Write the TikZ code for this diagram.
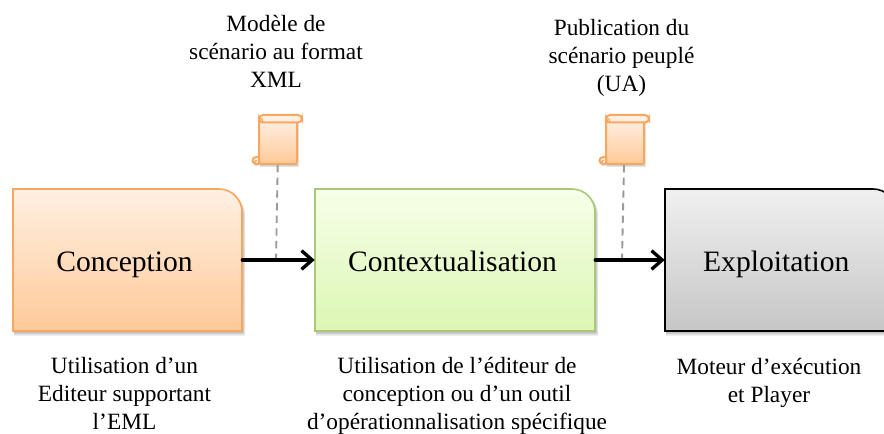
\documentclass[tikz,border=0pt]{standalone}
\usepackage{fontspec}
\setmainfont{Liberation Serif}
\usetikzlibrary{arrows.meta,calc}
\definecolor{orline}{HTML}{F9A75F}
\definecolor{ortop}{HTML}{FFF0E3}
\definecolor{orbot}{HTML}{FFC998}
\definecolor{grline}{HTML}{ABC878}
\definecolor{grtop}{HTML}{F6FFE8}
\definecolor{grbot}{HTML}{DCF6B4}
\definecolor{gytop}{HTML}{F0F0F0}
\definecolor{gybot}{HTML}{C6C6C6}
\definecolor{dashc}{HTML}{9A9A9A}
\tikzset{
  x=0.75pt,y=-0.75pt,
  boxtext/.style={font=\fontsize{22.2}{26}\selectfont,inner sep=0pt,text=black,anchor=base},
  captxt/.style={font=\fontsize{17.5}{21}\selectfont,align=center,inner sep=0pt,text=black,anchor=base},
  flow/.style={line width=2.5pt,black,-{Straight Barb[length=8pt,width=14pt,line width=2.5pt]},line cap=round},
  link/.style={dashc,line width=1.4pt,dash pattern=on 5.5pt off 4pt},
  shadowc/.style={fill=black,draw=none,opacity=.1},
  anchorbox/.style={inner sep=0pt,draw=none},
  scrolline/.style={orline,line width=1.5pt},
}
\newcommand{\blockpath}[4]{(#1,#2) -- (#3-23,#2) arc[start angle=90,end angle=0,radius=23*0.75pt] -- (#3,#4) -- (#1,#4) -- cycle}
\newcommand{\blockshadow}[4]{%
  \fill[shadowc] \blockpath{#1+1}{#2+1}{#3+1}{#4+1.5};
  \fill[shadowc] \blockpath{#1+1}{#2+2}{#3+2}{#4+3};
  \fill[shadowc] \blockpath{#1+1}{#2+3}{#3+3}{#4+4.5};}
\newcommand{\scrollicon}[2]{%
  \begin{scope}[shift={(#1,#2)}]
    \fill[shadowc] (1,4) rectangle (40,52);
    \fill[shadowc] (1,4) rectangle (39,51);
    \fill[shadowc] (-5,48) rectangle (1,51.5);
    \draw[scrolline,fill=ortop] (0,49) -- (-3,49) arc[start angle=270,end angle=90,radius=2.6pt] -- (0,42);
    \draw[scrolline,rounded corners=1.5pt,top color=ortop,bottom color=orbot] (0,3) rectangle (38,49);
    \draw[scrolline,fill=ortop,rounded corners=3pt] (0,0) rectangle (43,7.5);
    \draw[orline,line width=.9pt] (3.5,7) -- (3.5,5.5) arc[start angle=0,end angle=300,radius=1.5pt];
    \draw[orline,line width=.9pt] (-3,49) arc[start angle=270,end angle=60,radius=1.3pt];
  \end{scope}}
\begin{document}
\begin{tikzpicture}
\useasboundingbox (0,0) rectangle (884,434);
\begin{scope}
\clip (0,0) rectangle (884,434);
\blockshadow{13}{189}{242}{331}
\blockshadow{315}{189}{595}{331}
\blockshadow{665}{189}{896}{331}
\draw[orline,line width=1.2pt,top color=ortop,bottom color=orbot] \blockpath{13}{189}{242}{331};
\draw[grline,line width=1.2pt,top color=grtop,bottom color=grbot] \blockpath{315}{189}{595}{331};
\draw[black,line width=1.2pt,top color=gytop,bottom color=gybot] \blockpath{665}{189}{896}{331};
\end{scope}
\node[anchorbox,minimum width=171.75pt,minimum height=106.5pt] (conception) at (127.5,260) {};
\node[anchorbox,minimum width=210pt,minimum height=106.5pt] (context) at (455,260) {};
\node[anchorbox,minimum width=173.25pt,minimum height=106.5pt] (exploit) at (780.5,260) {};
\node[boxtext] (t1) at (124.5,272) {Conception};
\node[boxtext] (t2) at (452.5,272) {Contextualisation};
\node[boxtext] (t3) at (776.3,272) {Exploitation};
\scrollicon{259}{115}
\scrollicon{606}{115}
\coordinate (s1) at (277.7,165);
\coordinate (s2) at (624,165);
\coordinate (j1) at (276,260);
\coordinate (j2) at (622,260);
\draw[link] (s1) -- (j1);
\draw[link] (s2) -- (j2);
\draw[flow] (conception.east) -- (context.west);
\draw[flow] (context.east) -- (exploit.west);
\node[captxt] (c1) at (276,88) {Modèle de\\scénario au format\\XML};
\node[captxt] (c2) at (621.5,91.5) {Publication du\\scénario peuplé\\(UA)};
\node[captxt] (c3) at (124.5,429) {Utilisation d’un\\Editeur supportant\\l’EML};
\node[captxt] (c4) at (457,429) {Utilisation de l’éditeur de\\conception ou d’un outil\\d’opérationnalisation spécifique};
\node[captxt] (c5) at (769,402) {Moteur d’exécution\\et Player};
\end{tikzpicture}
\end{document}
